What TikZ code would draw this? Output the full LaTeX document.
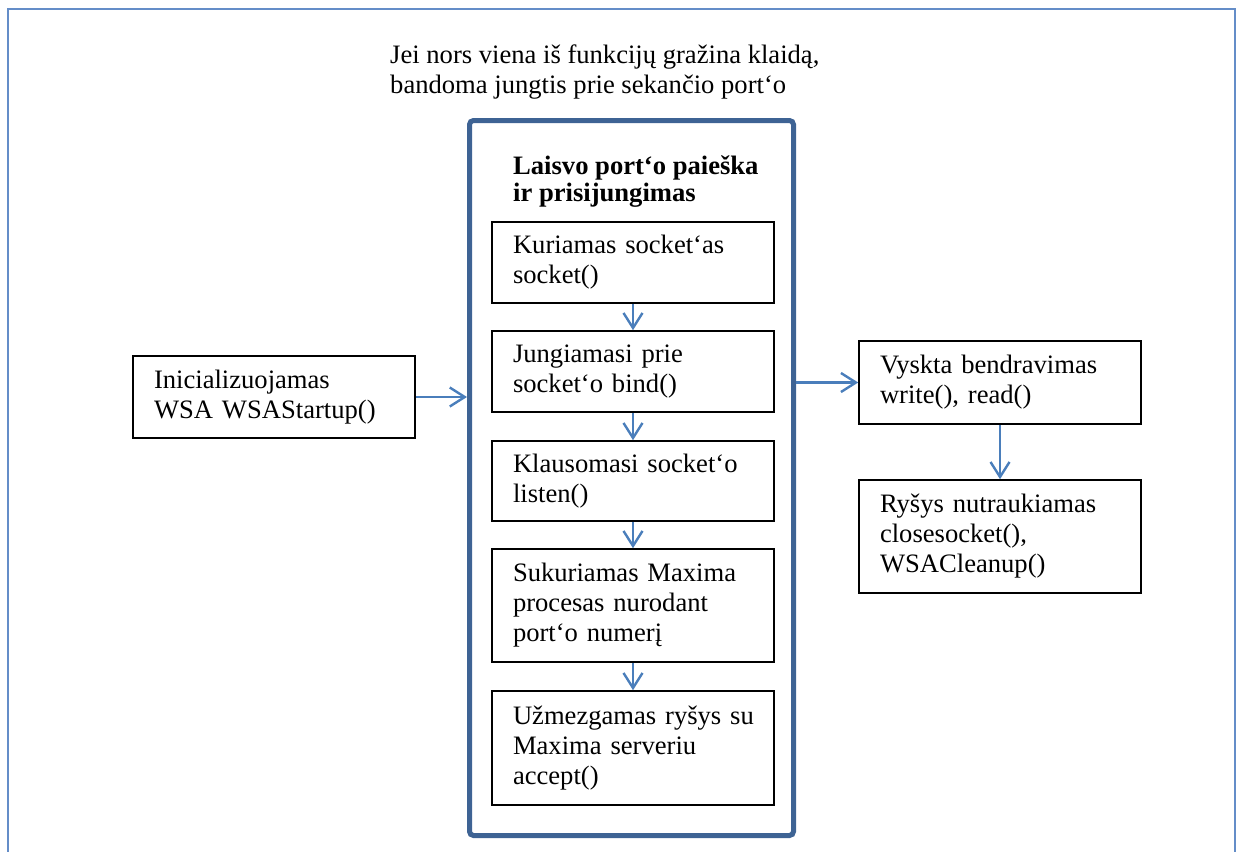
\documentclass[tikz,border=0pt]{standalone}
\usepackage{fontspec}
\setmainfont{Liberation Serif}
\usetikzlibrary{arrows.meta}
\definecolor{frameblue}{RGB}{100,141,200}
\definecolor{groupblue}{RGB}{62,99,148}
\definecolor{flowblue}{RGB}{74,126,187}
\begin{document}
\begin{tikzpicture}[x=1pt,y=-1pt,
  font=\fontsize{26.6}{30}\selectfont,
  stepbox/.style={draw=black, line width=1.6pt, text width=240pt, inner xsep=21pt,
    inner ysep=0pt, align=left},
  flow/.style={draw=flowblue, line width=2.4pt, -{Straight Barb[length=15pt,width=19pt]}},
  plaintext/.style={anchor=base west, align=left, inner sep=0pt}]
\useasboundingbox (0,0) rectangle (1236,851);

% page frame
\draw[frameblue, line width=2pt] (7.5,860) -- (7.5,9.5) -- (1234.5,9.5) -- (1234.5,860);

% note above the group (anchored at the baseline of its last line)
\node[plaintext] (note) at (390,93) {Jei nors viena iš funkcijų gražina klaidą,\\bandoma jungtis prie sekančio port‘o};

% group: free port search and connection
\node[draw=groupblue, line width=5pt, rounded corners=4pt, minimum width=324pt,
  minimum height=715pt, inner sep=0pt] (grp) at (631.5,478) {};
\node[plaintext, font=\fontsize{26.6}{27}\selectfont\bfseries] (grptitle) at (513,201)
  {Laisvo port‘o paieška\\ir prisijungimas};

\node[stepbox, minimum height=81pt] (s1) at (633,262.5) {Kuriamas socket‘as\\socket()};
\node[stepbox, minimum height=81pt] (s2) at (633,371.5) {Jungiamasi prie\\socket‘o bind()};
\node[stepbox, minimum height=80pt] (s3) at (633,481) {Klausomasi socket‘o\\listen()};
\node[stepbox, minimum height=113pt] (s4) at (633,605.5) {Sukuriamas~Maxima\\procesas~nurodant\\port‘o~numerį};
\node[stepbox, minimum height=114pt] (s5) at (633,748) {Užmezgamas~ryšys~su\\Maxima~serveriu\\accept()};

% outside the group
\node[stepbox, minimum height=82pt] (init) at (274,397) {Inicializuojamas\\WSA~WSAStartup()};
\node[stepbox, minimum height=83pt] (comm) at (1000,382.5) {Vyskta~bendravimas\\write(),~read()};
\node[stepbox, minimum height=113pt] (close) at (1000,536.5) {Ryšys~nutraukiamas\\closesocket(),\\WSACleanup()};

% connectors
\draw[flow] (s1.south) -- (s2.north);
\draw[flow] (s2.south) -- (s3.north);
\draw[flow] (s3.south) -- (s4.north);
\draw[flow] (s4.south) -- (s5.north);
\draw[flow] (init.east) -- (init.east -| grp.west);
\draw[flow] (grp.east |- comm.west) -- (comm.west);
\draw[flow] (comm.south) -- (close.north);
\end{tikzpicture}
\end{document}
